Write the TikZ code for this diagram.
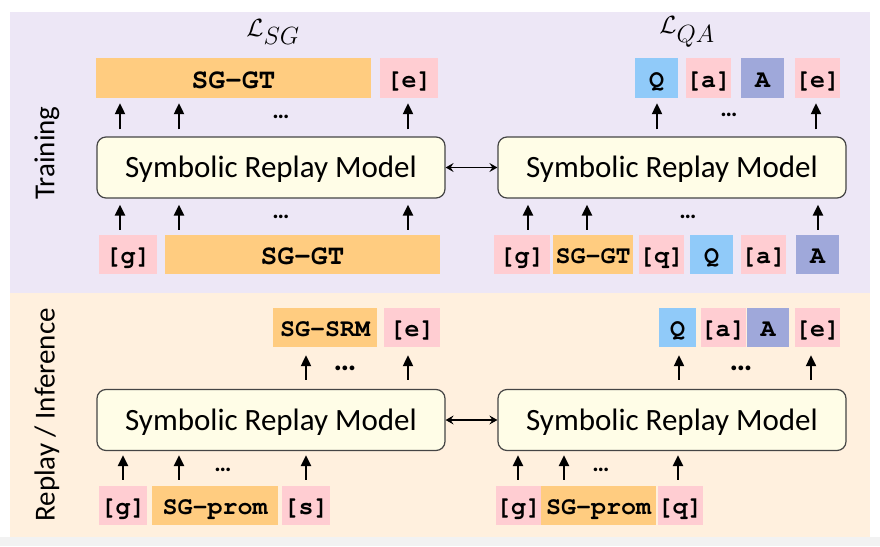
\documentclass[tikz,border=0pt]{standalone}
\usepackage[T1]{fontenc}
\usepackage{fontspec}
\setmainfont{Carlito}
\usetikzlibrary{arrows.meta}
\definecolor{lavc}{HTML}{EDE7F6}
\definecolor{peachc}{HTML}{FFF0DE}
\definecolor{grayc}{HTML}{F2F2F2}
\definecolor{orc}{HTML}{FFCC80}
\definecolor{pkc}{HTML}{FFCDD2}
\definecolor{blc}{HTML}{90CAF9}
\definecolor{inc}{HTML}{9FA8DA}
\definecolor{boxc}{HTML}{FFFDE7}
\definecolor{edgec}{HTML}{454545}
\newcommand{\courb}{\fontencoding{T1}\fontfamily{pcr}\fontseries{b}\fontshape{n}}
\newcommand{\tok}[8][]{%
  \node[tokst,fill=#7,minimum width={(#4)-(#3)},minimum height={(#6)-(#5)},#1]
    (#2) at ({((#3)+(#4))/2},{((#5)+(#6))/2}) {#8};}
% token (below) -> box (above)
\newcommand{\arrTB}[5]{\draw[arr,shorten <=#4,shorten >=#5] ([xshift=#3]#1.north) -- ([xshift=#3]#1.north |- #2.south);}
% box (below) -> token (above)
\newcommand{\arrBT}[5]{\draw[arr,shorten <=#4,shorten >=#5] ([xshift=#3]#2.south |- #1.north) -- ([xshift=#3]#2.south);}
\begin{document}
\begin{tikzpicture}[x=1pt,y=-1pt,
  tokst/.style={inner sep=0pt,draw=none,text=black,text height=18pt,text depth=0pt,
    font=\courb\fontsize{25}{28}\selectfont},
  bigtok/.style={font=\courb\fontsize{28}{32}\selectfont,text height=20pt},
  srm/.style={draw=edgec,line width=1.2pt,rounded corners=9pt,fill=boxc,
    minimum width=348pt,minimum height=61pt,inner sep=0pt,text height=20pt,text depth=0pt,
    font=\fontsize{31}{36}\selectfont},
  arr/.style={line width=2.2pt,-{Triangle[length=11pt,width=10pt]}},
  dbl/.style={line width=1.3pt,{Stealth[length=8pt,width=9pt,inset=3pt]}-{Stealth[length=8pt,width=9pt,inset=3pt]}},
  dots/.style={inner sep=0pt,font=\bfseries\fontsize{24}{28}\selectfont},
  wdots/.style={inner sep=0pt,font=\bfseries\fontsize{32}{36}\selectfont},
  side/.style={rotate=90,inner sep=0pt,font=\fontsize{29}{34}\selectfont},
  loss/.style={inner sep=0pt,font=\fontsize{34}{40}\selectfont}]
\useasboundingbox (0,0) rectangle (880,546);
\fill[white] (0,0) rectangle (880,546);
\fill[grayc] (0,537) rectangle (880,546);
\fill[lavc] (10,12) rectangle (870,293);
\fill[peachc] (10,293) rectangle (870,537);

% side labels
\node[side] (lt) at (47,153) {Training};
\node[side] (lr) at (47,415) {Replay / Inference};

% losses
\node[loss] (lsg) at (273,32) {$\mathcal{L}_{SG}$};
\node[loss] (lqa) at (687,32) {$\mathcal{L}_{QA}$};

% models
\node[srm] (m1) at (271,167.5) {Symbolic Replay Model};
\node[srm] (m2) at (672,167.5) {Symbolic Replay Model};
\node[srm] (m3) at (271,420) {Symbolic Replay Model};
\node[srm] (m4) at (672,420) {Symbolic Replay Model};
\draw[dbl] (m1.east) -- (m2.west);
\draw[dbl] (m3.east) -- (m4.west);

% top-left tokens
\tok[bigtok]{t1o}{96}{371}{58}{98}{orc}{SG-GT}
\tok{t1e}{380}{438}{58}{98}{pkc}{[e]}
\tok{b1g}{99}{157}{235}{274}{pkc}{[g]}
\tok[bigtok]{b1s}{165}{440}{235}{274}{orc}{SG-GT}
% top-right tokens
\tok{t2q}{635}{678}{58}{98}{blc}{Q}
\tok{t2a}{687}{730}{58}{98}{pkc}{[a]}
\tok{t2A}{741}{784}{58}{98}{inc}{A}
\tok{t2e}{796}{839}{58}{98}{pkc}{[e]}
\tok{b2g}{494}{550}{235}{274}{pkc}{[g]}
\tok{b2s}{553}{633}{235}{274}{orc}{SG-GT}
\tok{b2q}{640}{683}{235}{274}{pkc}{[q]}
\tok{b2Q}{690}{733}{235}{274}{blc}{Q}
\tok{b2a}{742}{785}{235}{274}{pkc}{[a]}
\tok{b2A}{796}{839}{235}{274}{inc}{A}
% bottom-left tokens
\tok{t3s}{273}{377}{308}{347}{orc}{SG-SRM}
\tok{t3e}{384}{440}{308}{347}{pkc}{[e]}
\tok{b3g}{99}{147}{486}{525}{pkc}{[g]}
\tok{b3p}{152}{278}{486}{525}{orc}{SG-prom}
\tok{b3s}{282}{330}{486}{525}{pkc}{[s]}
% bottom-right tokens
\tok{t4Q}{659}{696}{308}{347}{blc}{Q}
\tok{t4a}{703}{743}{308}{347}{pkc}{[a]}
\tok{t4A}{747}{789}{308}{347}{inc}{A}
\tok{t4e}{796}{839}{308}{347}{pkc}{[e]}
\tok{b4g}{499}{538}{486}{525}{pkc}{[g]}
\tok{b4p}{541}{656}{486}{525}{orc}{SG-prom}
\tok{b4q}{659}{701}{486}{525}{pkc}{[q]}

% arrows top-left
\arrBT{m1}{t1o}{-113.5pt}{7pt}{5pt}
\arrBT{m1}{t1o}{-54.5pt}{7pt}{5pt}
\arrBT{m1}{t1e}{-1pt}{7pt}{5pt}
\arrTB{b1g}{m1}{-8pt}{5pt}{6pt}
\arrTB{b1s}{m1}{-123.5pt}{5pt}{6pt}
\arrTB{b1s}{m1}{105.5pt}{5pt}{6pt}
% arrows top-right
\arrBT{m2}{t2q}{0.5pt}{7pt}{5pt}
\arrBT{m2}{t2e}{-1.5pt}{7pt}{5pt}
\arrTB{b2g}{m2}{6pt}{5pt}{6pt}
\arrTB{b2s}{m2}{-6pt}{5pt}{6pt}
\arrTB{b2A}{m2}{0.5pt}{5pt}{6pt}
% arrows bottom-left
\arrBT{m3}{t3s}{-19pt}{9pt}{8pt}
\arrBT{m3}{t3e}{-4pt}{9pt}{8pt}
\arrTB{b3g}{m3}{0pt}{6pt}{4pt}
\arrTB{b3p}{m3}{-36pt}{6pt}{4pt}
\arrTB{b3s}{m3}{0pt}{6pt}{4pt}
% arrows bottom-right
\arrBT{m4}{t4Q}{1.5pt}{9pt}{8pt}
\arrBT{m4}{t4e}{-6.5pt}{9pt}{8pt}
\arrTB{b4g}{m4}{-0.5pt}{6pt}{4pt}
\arrTB{b4p}{m4}{-34.5pt}{6pt}{4pt}
\arrTB{b4q}{m4}{-2pt}{6pt}{4pt}

% dots
\node[dots] (d1) at (281,117) {…};
\node[dots] (d2) at (281,217) {…};
\node[dots] (d3) at (729,115) {…};
\node[dots] (d4) at (688,217) {…};
\node[wdots] (d5) at (345,368) {…};
\node[dots] (d6) at (223,470) {…};
\node[wdots] (d7) at (741,368) {…};
\node[dots] (d8) at (601,470) {…};
\end{tikzpicture}
\end{document}
